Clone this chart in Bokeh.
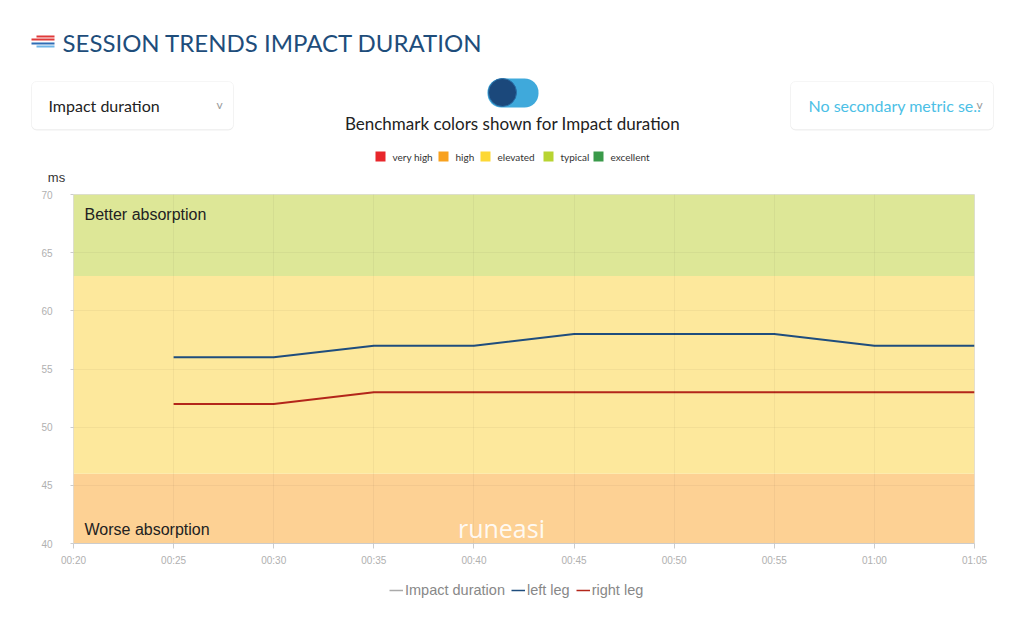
from bokeh.plotting import figure
from bokeh.models import (Range1d, BoxAnnotation, Label, FixedTicker, Legend, LegendItem)
from bokeh.core.properties import value
from bokeh.embed import file_html
from bokeh.resources import INLINE

# ---------------- data ----------------
elapsed_s = [25, 30, 35, 40, 45, 50, 55, 60, 65]
left_leg_ms = [56, 56, 57, 57, 58, 58, 58, 57, 57]
right_leg_ms = [52, 52, 53, 53, 53, 53, 53, 53, 53]
impact_duration_ms = []  # series hidden in the reference (legend entry greyed out)

x_tick_s = [20, 25, 30, 35, 40, 45, 50, 55, 60, 65]
x_tick_labels = ["00:20", "00:25", "00:30", "00:35", "00:40", "00:45",
                 "00:50", "00:55", "01:00", "01:05"]
y_ticks = [40, 45, 50, 55, 60, 65, 70]

band_lows = [40, 46, 63]
band_highs = [46, 63, 70]
band_colors = ["#fdd194", "#fde89c", "#dde797"]

benchmark_levels = ["very high", "high", "elevated", "typical", "excellent"]
benchmark_colors = ["#e8262b", "#f8a11e", "#fdd835", "#b8d432", "#3a9a4a"]

series_names = ["Impact duration", "left leg", "right leg"]
series_colors = ["#aaaaaa", "#1f4d7d", "#b3261a"]

# ---------------- header (pixel coordinates of the page) ----------------
W = 1008
HH = 186
hdr = figure(width=W, height=HH, x_range=Range1d(0, W), y_range=Range1d(HH, 0),
             output_backend="svg", toolbar_location=None, min_border=0)
hdr.axis.visible = False
hdr.grid.visible = False
hdr.outline_line_color = None
hdr.title.visible = False

# icon
hdr.segment(x0=[36, 31, 31, 36], y0=[36, 39, 43, 46], x1=[54, 54, 54, 54], y1=[36, 39, 43, 46],
            line_color=["#e03a3a", "#e03a3a", "#2f6db5", "#6fb6e8"], line_width=2)
hdr.text(x=[62], y=[42], text=["SESSION TRENDS IMPACT DURATION"], text_font=value("Lato"),
         text_font_size=value("24px"), text_color="#1e4d7b", text_baseline="middle")

# dropdown boxes
for l, r in [(31, 233), (790, 993)]:
    hdr.add_layout(BoxAnnotation(left=l, right=r, top=82, bottom=130, fill_color="#f0f0f0",
                                 fill_alpha=1, line_color=None, border_radius=5, level="underlay"))
    hdr.add_layout(BoxAnnotation(left=l, right=r, top=81, bottom=129, fill_color="white",
                                 fill_alpha=1, line_color="#e2e2e2", line_width=1,
                                 border_radius=5, level="underlay"))
hdr.text(x=[48], y=[105], text=["Impact duration"], text_font=value("Lato"),
         text_font_size=value("16px"), text_color="#222222", text_baseline="middle")
hdr.text(x=[808], y=[105], text=["No secondary metric se.."], text_font=value("Lato"),
         text_font_size=value("16px"), text_color="#4cbfe6", text_baseline="middle")
hdr.text(x=[219, 979], y=[104, 104], text=["v", "v"], text_font=value("Lato"),
         text_font_size=value("12px"), text_color="#9a9a9a", text_baseline="middle",
         text_align="center")

# toggle
hdr.add_layout(BoxAnnotation(left=487, right=538, top=78, bottom=107, fill_color="#3fa9db",
                             fill_alpha=1, line_color=None, border_radius=14, level="underlay"))
hdr.scatter(x=[502], y=[92], size=28, marker="circle", fill_color="#1b487b",
            line_color="#2a6ea6", line_width=1)
hdr.text(x=[512], y=[123], text=["Benchmark colors shown for Impact duration"],
         text_font=value("Lato"), text_font_size=value("17px"), text_color="#222222",
         text_baseline="middle", text_align="center")

# benchmark legend
sq_x = [380, 443, 485, 548, 598]
hdr.scatter(x=sq_x, y=[156] * 5, marker="square", size=10, fill_color=benchmark_colors,
            line_color=None)
hdr.text(x=[s + 12 for s in sq_x], y=[156] * 5, text=benchmark_levels, text_font=value("Lato"),
         text_font_size=value("10px"), text_color="#333333", text_baseline="middle")

hdr.text(x=[56], y=[177], text=["ms"], text_font=value("Liberation Sans"),
         text_font_size=value("13px"), text_color="#333333", text_baseline="middle",
         text_align="center")

# ---------------- main chart ----------------
p = figure(frame_width=901, frame_height=349, x_range=Range1d(20, 65), y_range=Range1d(40, 70),
           output_backend="svg", toolbar_location=None,
           min_border_left=73, min_border_right=34, min_border_top=8, min_border_bottom=30)
p.title.visible = False
p.outline_line_color = "#dddddd"

for lo, hi, c in zip(band_lows, band_highs, band_colors):
    p.add_layout(BoxAnnotation(bottom=lo, top=hi, fill_color=c, fill_alpha=1,
                               line_color=None, level="underlay"))

p.xgrid.ticker = FixedTicker(ticks=x_tick_s)
p.ygrid.ticker = FixedTicker(ticks=y_ticks)
p.grid.grid_line_color = "#000000"
p.grid.grid_line_alpha = 0.04
p.grid.level = "annotation"

p.xaxis.ticker = FixedTicker(ticks=x_tick_s)
p.xaxis.major_label_overrides = {t: lab for t, lab in zip(x_tick_s, x_tick_labels)}
p.yaxis.ticker = FixedTicker(ticks=y_ticks)
for ax in (p.xaxis, p.yaxis):
    ax.major_label_text_font = "Liberation Sans"
    ax.major_label_text_font_size = "10px"
    ax.major_label_text_color = "#b0b0b0"
    ax.minor_tick_line_color = None
    ax.major_tick_in = 0
p.xaxis.axis_line_color = "#cccccc"
p.xaxis.major_tick_line_color = "#cccccc"
p.xaxis.major_tick_out = 5
p.xaxis.major_label_standoff = 6
p.yaxis.axis_line_color = None
p.yaxis.major_tick_line_color = "#cccccc"
p.yaxis.major_tick_out = 3
p.yaxis.major_label_standoff = 18

r_imp = p.line(x=impact_duration_ms, y=impact_duration_ms, line_color=series_colors[0],
               line_width=2)
r_imp.visible = False
p.line(x=elapsed_s, y=left_leg_ms, line_color=series_colors[1], line_width=2)
p.line(x=elapsed_s, y=right_leg_ms, line_color=series_colors[2], line_width=2)

p.add_layout(Label(x=20.55, y=68.3, text="Better absorption", text_font="Liberation Sans",
                   text_font_size="16px", text_color="#222222", text_baseline="middle"))
p.add_layout(Label(x=20.55, y=41.2, text="Worse absorption", text_font="Liberation Sans",
                   text_font_size="16px", text_color="#222222", text_baseline="middle"))
p.add_layout(Label(x=39.2, y=41.35, text="runeasi", text_font="Open Sans",
                   text_font_size="25px", text_color="white", text_alpha=0.9,
                   text_baseline="middle"))

# ---------------- footer legend (proxy renderers, data lies outside the view) ----------------
ftr = figure(width=W, height=26, x_range=Range1d(0, 1), y_range=Range1d(0, 1),
             output_backend="svg", toolbar_location=None, min_border=0)
ftr.axis.visible = False
ftr.grid.visible = False
ftr.outline_line_color = None
ftr.title.visible = False
proxy_y = [left_leg_ms, left_leg_ms, right_leg_ms]
items = []
for name, col, ys in zip(series_names, series_colors, proxy_y):
    r = ftr.line(x=elapsed_s, y=ys, line_color=col, line_width=1.5)
    if name == "Impact duration":
        r.visible = False
    items.append(LegendItem(label=name, renderers=[r]))
legend = Legend(items=items, orientation="horizontal", location=(389, 1),
                label_text_font="Liberation Sans", label_text_font_size="14.5px",
                label_text_color="#888888", glyph_width=14, glyph_height=14,
                label_standoff=2, spacing=6, border_line_color=None,
                background_fill_alpha=0, margin=0, padding=4,
                inactive_fill_color="white", inactive_fill_alpha=0.4)
ftr.add_layout(legend)

open("out.html", "w").write(file_html([hdr, p, ftr], INLINE))
